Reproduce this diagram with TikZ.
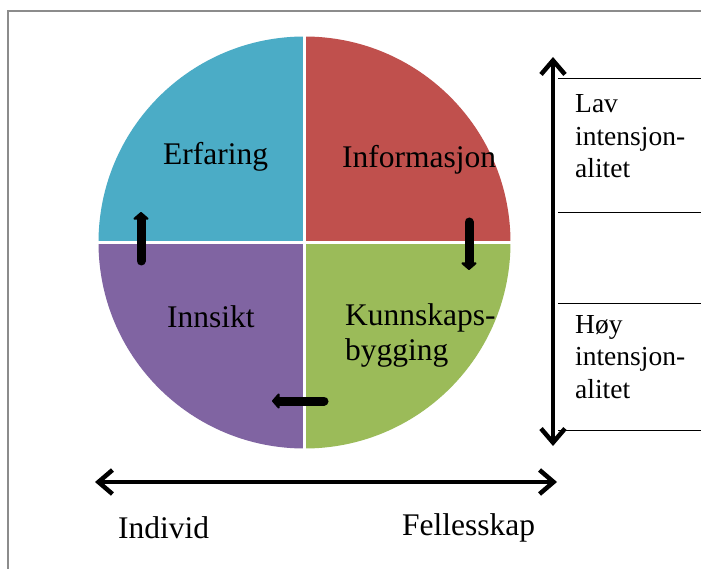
\documentclass[tikz,border=0pt]{standalone}
\usepackage{fontspec}
\setmainfont{Liberation Serif}
\usetikzlibrary{arrows.meta}
\definecolor{cteal}{HTML}{4BACC6}
\definecolor{cred}{HTML}{C0504D}
\definecolor{cgreen}{HTML}{9BBB59}
\definecolor{cpurple}{HTML}{8064A2}
\begin{document}
\begin{tikzpicture}[x=1pt,y=-1pt,
  lbl/.style={inner sep=0pt, anchor=base west, font=\fontsize{31.5}{35}\selectfont, align=left},
  tlbl/.style={inner sep=0pt, anchor=base west, font=\fontsize{27.5}{32.5}\selectfont, align=left},
  bigarrow/.style={line width=4.5pt, {Straight Barb[length=14pt,width=24pt]}-{Straight Barb[length=14pt,width=24pt]}},
  smallarrow/.style={line width=9pt, line cap=round, -{Triangle[length=8pt,width=18pt,round]}},
  tline/.style={line width=1pt, black},
  frame/.style={line width=2pt, black!45},
  sep/.style={white, line width=3pt}
]
\useasboundingbox (0,0) rectangle (701,569);
\fill[white] (0,0) rectangle (701,569);
\draw[frame] (8,569) -- (8,11) -- (701,11);

% circle
\coordinate (c) at (304.5,242.5);
\fill[cteal]   (c) -- +(-206,0) arc[start angle=180, end angle=270, radius=206] -- cycle;
\fill[cred]    (c) -- +(0,-206) arc[start angle=270, end angle=360, radius=206] -- cycle;
\fill[cgreen]  (c) -- +(206,0) arc[start angle=0, end angle=90, radius=206] -- cycle;
\fill[cpurple] (c) -- +(0,206) arc[start angle=90, end angle=180, radius=206] -- cycle;
\draw[sep] ([xshift=-207pt]c) -- ([xshift=207pt]c);
\draw[sep] ([yshift=207pt]c) -- ([yshift=-207pt]c);

% labels (base anchor = baseline of the last line)
\node[lbl] (erf) at (163,165) {Erfaring};
\node[lbl] (inf) at (342,168) {Informasjon};
\node[lbl] (inn) at (167,327) {Innsikt};
\node[lbl] (kun) at (345,360) {Kunnskaps-\\bygging};
\node[lbl] (ind) at (118,538) {Individ};
\node[lbl] (fel) at (402,535) {Fellesskap};

% table
\draw[tline] (558,79) -- (701,79);
\draw[tline] (558,213) -- (701,213);
\draw[tline] (558,303) -- (701,303);
\draw[tline] (558,430) -- (701,430);
\node[tlbl] (lav) at (575,178) {Lav\\intensjon-\\alitet};
\node[tlbl] (hoy) at (575,398) {Høy\\intensjon-\\alitet};

% big arrows
\coordinate (vtop) at (553,57);
\coordinate (vbot) at (553,446);
\draw[bigarrow] (vtop) -- (vbot);
\coordinate (hl) at (95,482);
\coordinate (hr) at (557,482);
\draw[bigarrow] (hl) -- (hr);

% small arrows
\coordinate (a1s) at (141,261);
\coordinate (a1e) at (141,212);
\draw[smallarrow] (a1s) -- (a1e);
\coordinate (a2s) at (469,222);
\coordinate (a2e) at (469,270);
\draw[smallarrow] (a2s) -- (a2e);
\coordinate (a3s) at (324,401);
\coordinate (a3e) at (272,401);
\draw[smallarrow] (a3s) -- (a3e);
\end{tikzpicture}
\end{document}
